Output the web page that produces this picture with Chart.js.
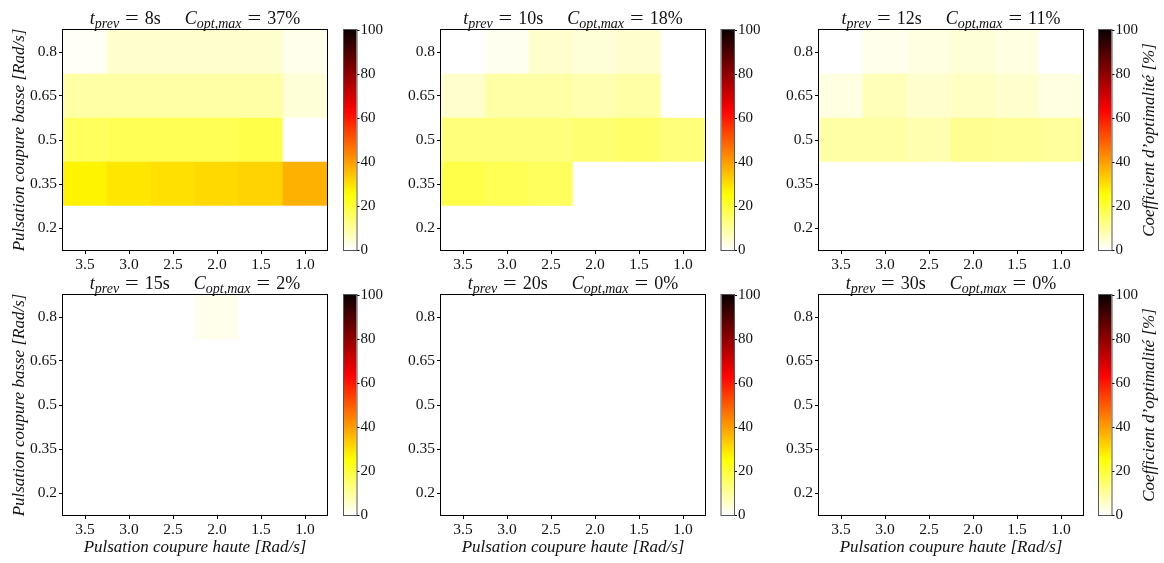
<!DOCTYPE html>
<html>
<head>
<meta charset="utf-8">
<script src="https://cdn.jsdelivr.net/npm/chart.js@4.4.0/dist/chart.umd.min.js"></script>
<style>
  body { margin: 0; background: #fff; }
  #wrap { position: relative; width: 1164px; height: 563px; overflow: hidden; }
  #wrap canvas { position: absolute; }
</style>
</head>
<body>
<div id="wrap"></div>
<script>
// x categories (Pulsation coupure haute), y rows (Pulsation coupure basse)
var colLabels = ["3.5", "3.0", "2.5", "2.0", "1.5", "1.0"];
var rowValues = [0.2, 0.35, 0.5, 0.65, 0.8];
var cbTicks = [0, 20, 40, 60, 80, 100];
var tPrev = [8, 10, 12, 15, 20, 30];
var cOptMax = [37, 18, 11, 2, 0, 0];

// one row per rowValues entry (0.2 -> 0.8), one value per colLabels entry
var c8s = [
  [0, 0, 0, 0, 0, 0],
  [27, 29, 30, 31, 32, 37],
  [16, 17, 17, 17, 18, 0],
  [9, 9, 9, 9, 9, 4],
  [1, 5, 5, 5, 5, 2]
];
var c10s = [
  [0, 0, 0, 0, 0, 0],
  [18, 17, 16, 0, 0, 0],
  [13, 13, 13, 14, 15, 13],
  [5, 9, 9, 8, 9, 0],
  [0, 1.5, 5, 4, 5, 0]
];
var c12s = [
  [0, 0, 0, 0, 0, 0],
  [0, 0, 0, 0, 0, 0],
  [9, 9, 8, 11, 10.5, 10],
  [3, 7, 5, 6, 5, 3],
  [0, 2, 3, 4, 3, 0]
];
var c15s = [
  [0, 0, 0, 0, 0, 0],
  [0, 0, 0, 0, 0, 0],
  [0, 0, 0, 0, 0, 0],
  [0, 0, 0, 0, 0, 0],
  [0, 0, 0, 2, 0, 0]
];
var c20s = [
  [0, 0, 0, 0, 0, 0],
  [0, 0, 0, 0, 0, 0],
  [0, 0, 0, 0, 0, 0],
  [0, 0, 0, 0, 0, 0],
  [0, 0, 0, 0, 0, 0]
];
var c30s = [
  [0, 0, 0, 0, 0, 0],
  [0, 0, 0, 0, 0, 0],
  [0, 0, 0, 0, 0, 0],
  [0, 0, 0, 0, 0, 0],
  [0, 0, 0, 0, 0, 0]
];
var panels = [c8s, c10s, c12s, c15s, c20s, c30s];

var serif = "'Liberation Serif', 'DejaVu Serif', serif";

// matplotlib "hot" reversed, v in 0..100
function hotR(v) {
  var s = 1 - v / 100;
  var r = s < 0.365079 ? 0.0416 + (1 - 0.0416) * s / 0.365079 : 1;
  var g = s < 0.365079 ? 0 : (s < 0.746032 ? (s - 0.365079) / (0.746032 - 0.365079) : 1);
  var b = s < 0.746032 ? 0 : (s - 0.746032) / (1 - 0.746032);
  return "rgb(" + Math.round(r * 255) + "," + Math.round(g * 255) + "," + Math.round(b * 255) + ")";
}

// layout of the 2x3 grid
var plotLeft = [63, 441, 819];
var plotTop = [30, 295];
var plotW = 264, plotH = 220;
var canvasTop = [0, 263];
var canvasH = [280, 300];
var cbLeft = [344, 721.5, 1099];
var cbW = 12.5;

var frame = function (color) {
  return {
    id: "frame",
    afterDatasetsDraw: function (chart) {
      var a = chart.chartArea, ctx = chart.ctx;
      ctx.save();
      ctx.strokeStyle = color;
      ctx.lineWidth = 1;
      ctx.strokeRect(a.left - 0.5, a.top - 0.5, a.right - a.left + 1, a.bottom - a.top + 1);
      ctx.restore();
    }
  };
};

// title with math-like subscripts: t_prev = Ns   C_opt,max = N%
function panelTitle(i) {
  return {
    id: "panelTitle",
    afterDraw: function (chart) {
      var a = chart.chartArea, ctx = chart.ctx;
      var it = "italic 18px " + serif, rm = "18px " + serif, sub = "italic 14px " + serif;
      var parts = [
        { t: "t", f: it, dy: 0 },
        { t: "prev", f: sub, dy: 4 },
        { gap: 6 },
        { t: "=", f: rm, dy: 0, sx: 1.35 },
        { gap: 6 },
        { t: tPrev[i] + "s", f: rm, dy: 0 },
        { gap: 24 },
        { t: "C", f: it, dy: 0 },
        { t: "opt,max", f: sub, dy: 4 },
        { gap: 6 },
        { t: "=", f: rm, dy: 0, sx: 1.35 },
        { gap: 6 },
        { t: cOptMax[i] + "%", f: rm, dy: 0 }
      ];
      ctx.save();
      ctx.fillStyle = "#111";
      ctx.textBaseline = "alphabetic";
      ctx.textAlign = "left";
      var total = 0;
      parts.forEach(function (p) {
        if (p.gap) { p.w = p.gap; }
        else { ctx.font = p.f; p.w = ctx.measureText(p.t).width * (p.sx || 1); }
        total += p.w;
      });
      var x = (a.left + a.right) / 2 - total / 2;
      var y = a.top - 6;
      parts.forEach(function (p) {
        if (!p.gap) {
          ctx.font = p.f;
          ctx.save();
          ctx.translate(x, y + p.dy);
          ctx.scale(p.sx || 1, 1);
          ctx.fillText(p.t, 0, 0);
          ctx.restore();
        }
        x += p.w;
      });
      ctx.restore();
    }
  };
}

function cbTitle(xPos) {
  return {
    id: "cbTitle",
    afterDraw: function (chart) {
      var a = chart.chartArea, ctx = chart.ctx;
      ctx.save();
      ctx.translate(xPos, (a.top + a.bottom) / 2);
      ctx.rotate(-Math.PI / 2);
      ctx.font = "italic 17px " + serif;
      ctx.fillStyle = "#111";
      ctx.textAlign = "center";
      ctx.textBaseline = "middle";
      ctx.fillText("Coefficient d\u2019optimalit\u00e9 [%]", 0, 0);
      ctx.restore();
    }
  };
}

function addCanvas(left, top, w, h) {
  var c = document.createElement("canvas");
  c.width = w; c.height = h;
  c.style.left = left + "px";
  c.style.top = top + "px";
  c.style.width = w + "px";
  c.style.height = h + "px";
  document.getElementById("wrap").appendChild(c);
  return c;
}

function heatmap(i) {
  var col = i % 3, row = Math.floor(i / 3);
  var left = plotLeft[col] - 63;
  var w = 63 + plotW + 4;
  var el = addCanvas(left, canvasTop[row], w, canvasH[row]);
  var grid = panels[i];
  var xAxisH = canvasTop[row] + canvasH[row] - (plotTop[row] + plotH);

  var datasets = rowValues.map(function (y, r) {
    return {
      data: grid[r].map(function () { return [y - 0.075, y + 0.075]; }),
      backgroundColor: grid[r].map(hotR),
      borderWidth: 0,
      barPercentage: 1,
      categoryPercentage: 1,
      grouped: false
    };
  });

  new Chart(el, {
    type: "bar",
    data: { labels: colLabels, datasets: datasets },
    options: {
      responsive: false,
      animation: false,
      devicePixelRatio: 1,
      layout: { padding: { top: plotTop[row] - canvasTop[row], right: 4, left: 0, bottom: 0 } },
      plugins: { legend: { display: false }, tooltip: { enabled: false } },
      scales: {
        x: {
          type: "category",
          offset: true,
          border: { display: false },
          grid: { offset: false, drawOnChartArea: false, tickLength: 4, color: "#000" },
          ticks: { font: { family: serif, size: 15.5 }, color: "#111", padding: 2, maxRotation: 0 },
          title: {
            display: row === 1,
            text: "Pulsation coupure haute [Rad/s]",
            font: { family: serif, size: 17, style: "italic" },
            color: "#111",
            padding: { top: 0, bottom: 5 }
          },
          afterFit: function (s) { s.height = xAxisH; }
        },
        y: {
          type: "linear",
          min: 0.125,
          max: 0.875,
          border: { display: false },
          grid: { drawOnChartArea: false, tickLength: 4, color: "#000" },
          afterBuildTicks: function (s) { s.ticks = rowValues.map(function (v) { return { value: v }; }); },
          ticks: {
            font: { family: serif, size: 15.5 },
            color: "#111",
            padding: 2,
            callback: function (v) { return String(v); }
          },
          title: {
            display: col === 0,
            text: "Pulsation coupure basse [Rad/s]",
            font: { family: serif, size: 17, style: "italic" },
            color: "#111",
            padding: { top: 9, bottom: 0 }
          },
          afterFit: function (s) { s.width = 63; }
        }
      }
    },
    plugins: [frame("#000"), panelTitle(i)]
  });
}

function colorbar(i) {
  var col = i % 3, row = Math.floor(i / 3);
  var left = Math.floor(cbLeft[col]) - 2;
  var w = col === 2 ? 1164 - left : 55;
  var padL = cbLeft[col] - left;
  var el = addCanvas(left, canvasTop[row], w, canvasH[row]);
  var plugins = [frame("#555")];
  if (col === 2) plugins.push(cbTitle(1150 - left));

  new Chart(el, {
    type: "bar",
    data: {
      labels: [""],
      datasets: [{
        data: [[cbTicks[0], cbTicks[cbTicks.length - 1]]],
        backgroundColor: function (ctx) {
          var a = ctx.chart.chartArea;
          if (!a) return null;
          var g = ctx.chart.ctx.createLinearGradient(0, a.bottom, 0, a.top);
          for (var k = 0; k <= 40; k++) g.addColorStop(k / 40, hotR(k * 2.5));
          return g;
        },
        borderWidth: 0,
        barPercentage: 1,
        categoryPercentage: 1
      }]
    },
    options: {
      responsive: false,
      animation: false,
      devicePixelRatio: 1,
      layout: {
        padding: {
          top: plotTop[row] - canvasTop[row],
          left: padL,
          right: 0,
          bottom: canvasTop[row] + canvasH[row] - (plotTop[row] + plotH)
        }
      },
      plugins: { legend: { display: false }, tooltip: { enabled: false } },
      scales: {
        x: { display: false },
        y: {
          position: "right",
          min: 0,
          max: 100,
          border: { display: false },
          grid: { drawOnChartArea: false, tickLength: 3, color: "#000" },
          afterBuildTicks: function (s) { s.ticks = cbTicks.map(function (v) { return { value: v }; }); },
          ticks: { font: { family: serif, size: 15 }, color: "#111", padding: 1 },
          afterFit: function (s) { s.width = w - padL - cbW; }
        }
      }
    },
    plugins: plugins
  });
}

for (var i = 0; i < 6; i++) {
  heatmap(i);
  colorbar(i);
}
</script>
</body>
</html>
